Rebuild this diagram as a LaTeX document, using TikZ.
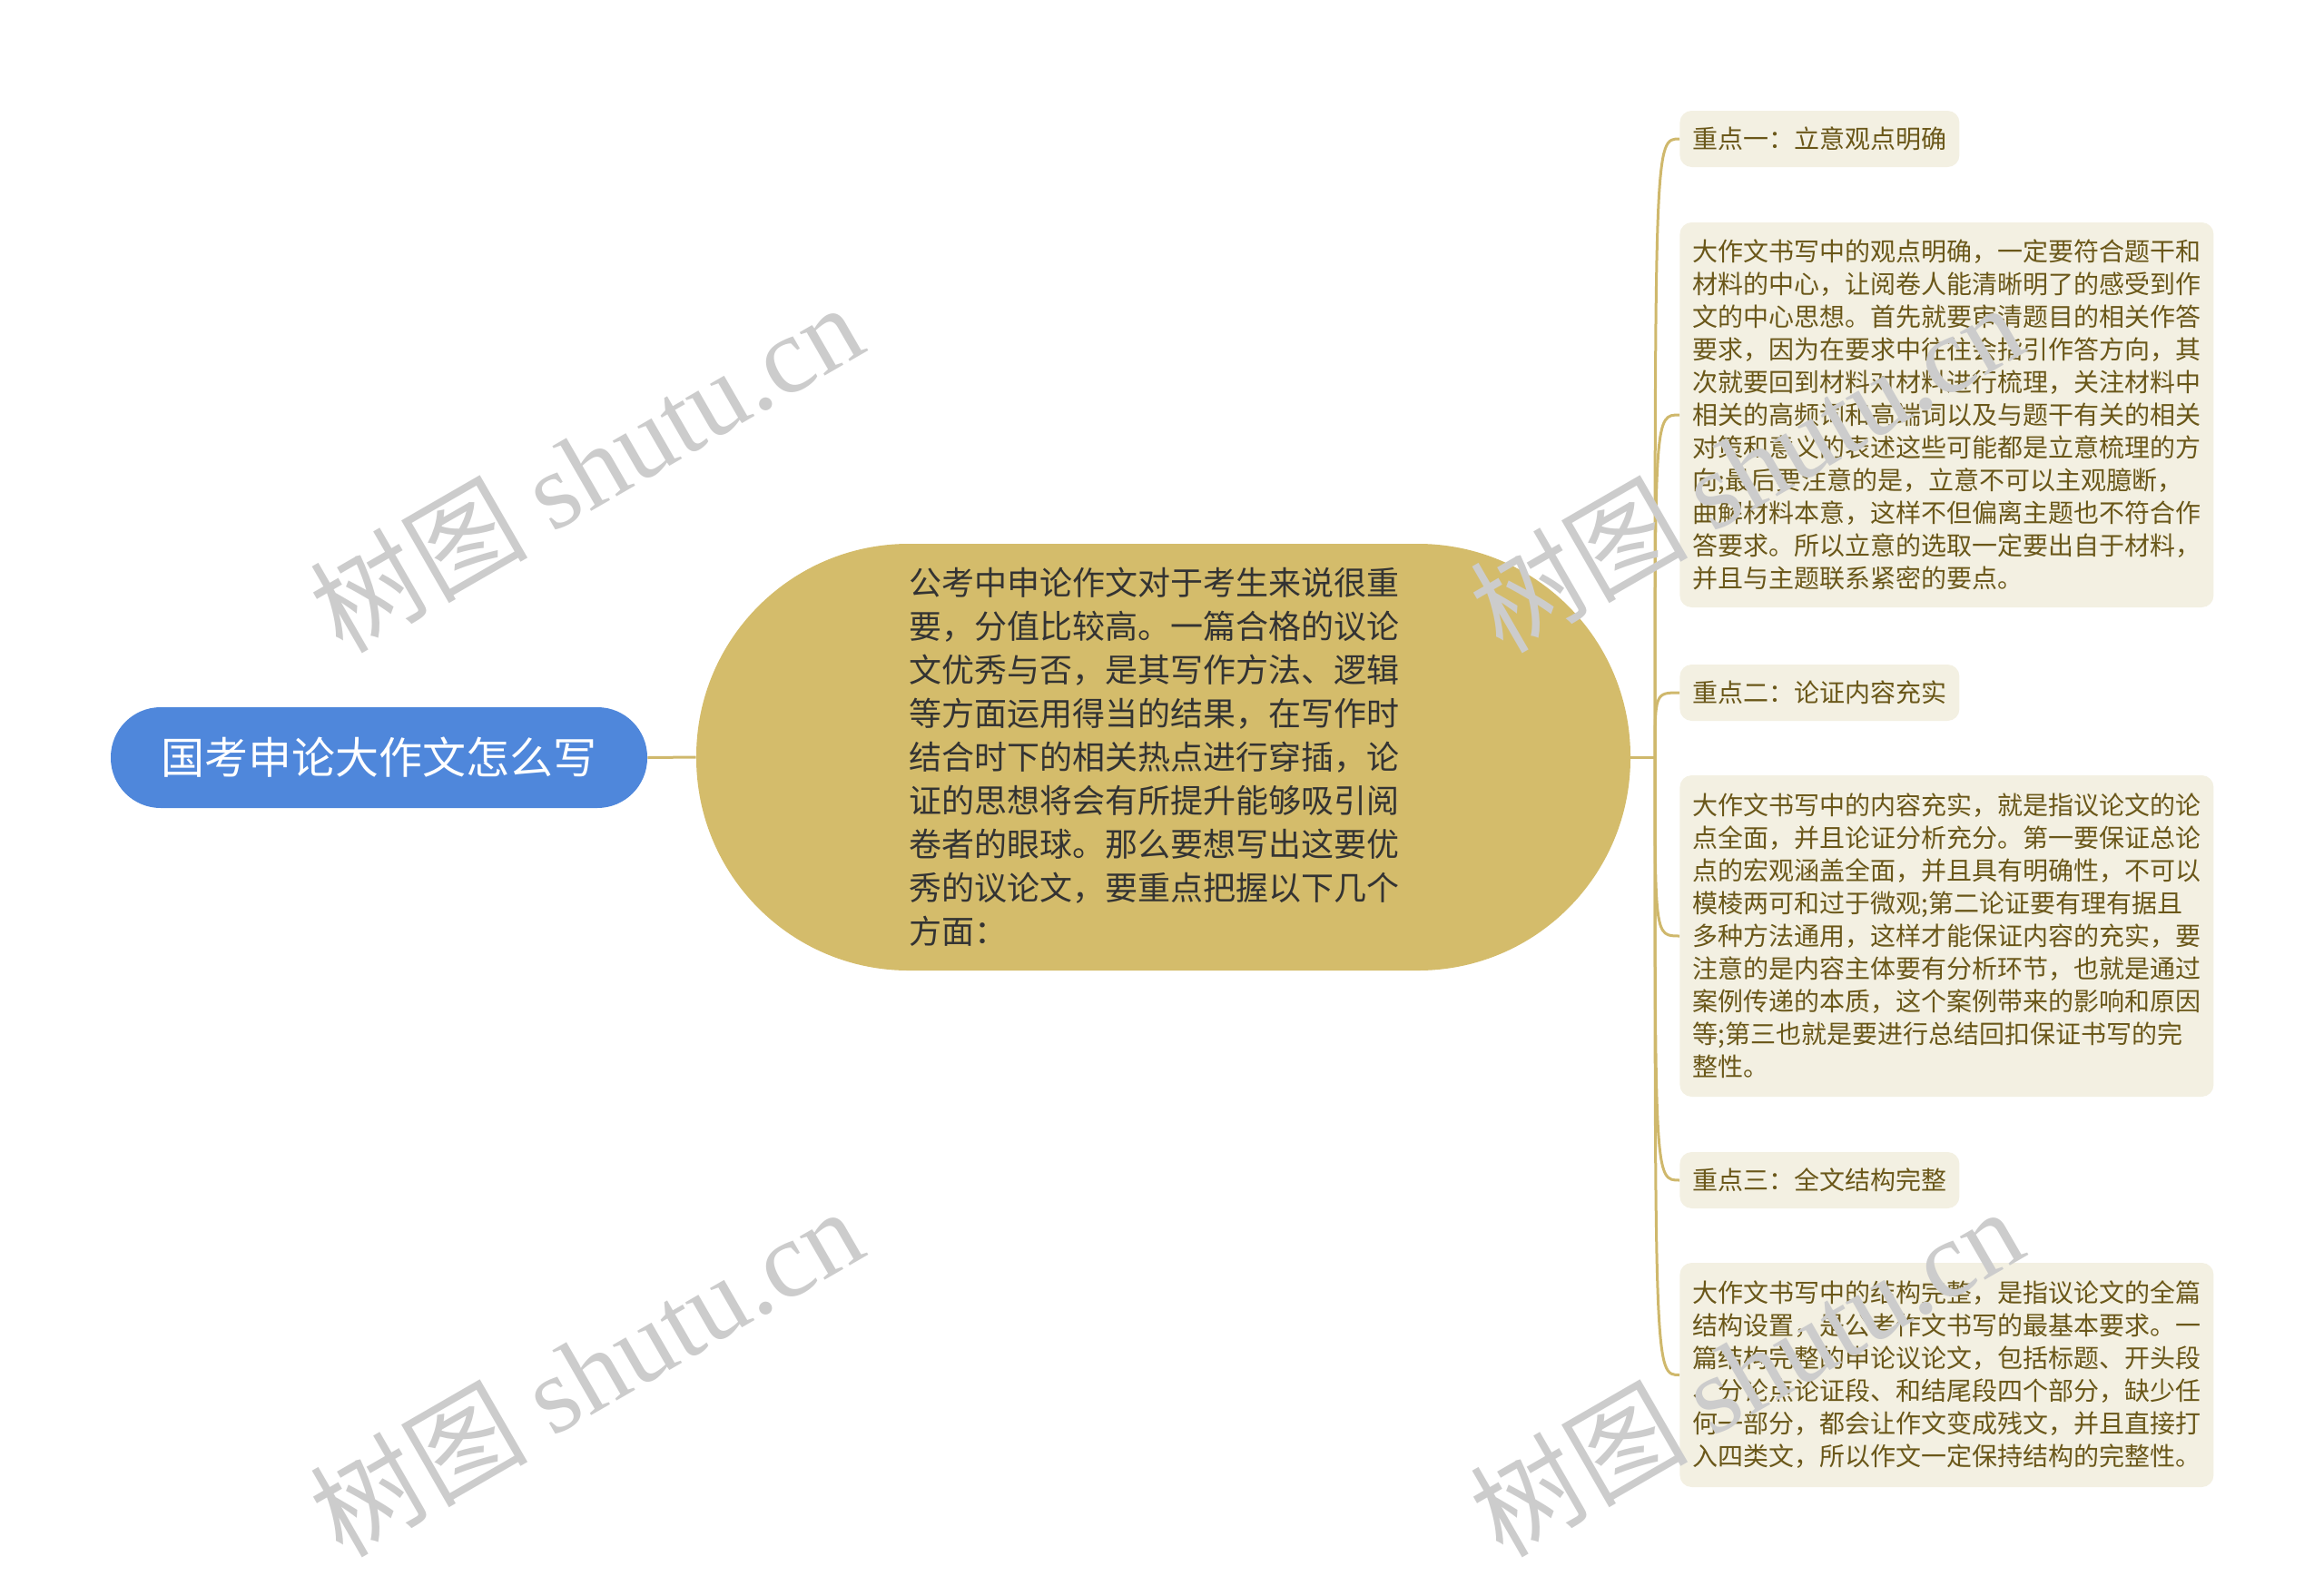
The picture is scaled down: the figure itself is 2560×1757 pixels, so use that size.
\documentclass[tikz,border=0pt]{standalone}
\usepackage{fontspec}
\setmainfont{Noto Sans CJK SC}
\newfontfamily\wmserif{Liberation Serif}

\definecolor{rootblue}{HTML}{4F87DB}
\definecolor{mainsand}{HTML}{D4BC6B}
\definecolor{leafcream}{HTML}{F3F0E2}
\definecolor{leaftext}{HTML}{6A5719}
\definecolor{linesand}{HTML}{CFB86C}

\tikzstyle{rootnode} = [fill=rootblue,text=white,rounded corners=27.5pt,minimum width=295.5pt,minimum height=55.5pt,inner sep=0pt,font=\fontsize{24pt}{28pt}\selectfont]
\tikzstyle{mainnode} = [fill=mainsand,text=black!80,rounded corners=117pt,minimum width=514.5pt,minimum height=235pt,inner sep=0pt,text width=280pt,align=left,font=\fontsize{18pt}{24pt}\selectfont]
\tikzstyle{leafnode} = [fill=leafcream,text=leaftext,rounded corners=6.5pt,anchor=west,inner xsep=7pt,inner ysep=0pt,align=left,font=\fontsize{14pt}{18pt}\selectfont]
\tikzstyle{branch} = [draw=linesand,line width=1.5pt]
\tikzstyle{watermark} = [text=black!20,rotate=30,font=\fontsize{60pt}{60pt}\selectfont]

\begin{document}
\begin{tikzpicture}[x=0.5pt,y=-0.5pt]
  \useasboundingbox (0,0) rectangle (2560,1757);
  %nodes
  \node[rootnode] (root) at (417.5,834.5) {国考申论大作文怎么写};
  \node[mainnode] (centre) at (1281.5,834) {公考中申论作文对于考生来说很重\\要，分值比较高。一篇合格的议论\\文优秀与否，是其写作方法、逻辑\\等方面运用得当的结果，在写作时\\结合时下的相关热点进行穿插，论\\证的思想将会有所提升能够吸引阅\\卷者的眼球。那么要想写出这要优\\秀的议论文，要重点把握以下几个\\方面：};
  \coordinate (junc) at (1823,834);
  \foreach \nodename/\y/\txt in {t1/153/重点一：立意观点明确, t2/763/重点二：论证内容充实, t3/1300/重点三：全文结构完整}
  {
    \node[leafnode,minimum height=31pt,minimum width=154pt] (\nodename) at (1850,\y) {\txt};
  }
  \node[leafnode,text width=280pt,minimum height=212pt] (p1) at (1850,457) {大作文书写中的观点明确，一定要符合题干和\\材料的中心，让阅卷人能清晰明了的感受到作\\文的中心思想。首先就要审清题目的相关作答\\要求，因为在要求中往往会指引作答方向，其\\次就要回到材料对材料进行梳理，关注材料中\\相关的高频词和高端词以及与题干有关的相关\\对策和意义的表述这些可能都是立意梳理的方\\向;最后要注意的是，立意不可以主观臆断，\\曲解材料本意，这样不但偏离主题也不符合作\\答要求。所以立意的选取一定要出自于材料，\\并且与主题联系紧密的要点。};
  \node[leafnode,text width=280pt,minimum height=177pt] (p2) at (1850,1031) {大作文书写中的内容充实，就是指议论文的论\\点全面，并且论证分析充分。第一要保证总论\\点的宏观涵盖全面，并且具有明确性，不可以\\模棱两可和过于微观;第二论证要有理有据且\\多种方法通用，这样才能保证内容的充实，要\\注意的是内容主体要有分析环节，也就是通过\\案例传递的本质，这个案例带来的影响和原因\\等;第三也就是要进行总结回扣保证书写的完\\整性。};
  \node[leafnode,text width=280pt,minimum height=123.5pt] (p3) at (1850,1514.5) {大作文书写中的结构完整，是指议论文的全篇\\结构设置，是公考作文书写的最基本要求。一\\篇结构完整的申论议论文，包括标题、开头段\\、分论点论证段、和结尾段四个部分，缺少任\\何一部分，都会让作文变成残文，并且直接打\\入四类文，所以作文一定保持结构的完整性。};
  %edges
  \draw[branch] (root.east) -- (centre.west);
  \draw[branch] (centre.east) -- (junc);
  \foreach \leafname in {t1,p1,t2,p2,t3,p3}
  {
    \draw[branch] (junc) .. controls (junc |- \leafname.west) .. (\leafname.west);
  }
  %watermark
  \foreach \wmname/\x/\y in {wm1/645/514, wm2/645/1510, wm3/1923/514, wm4/1923/1510}
  {
    \node[watermark] (\wmname) at (\x,\y) {树图 {\wmserif shutu.cn}};
  }
\end{tikzpicture}
\end{document}
